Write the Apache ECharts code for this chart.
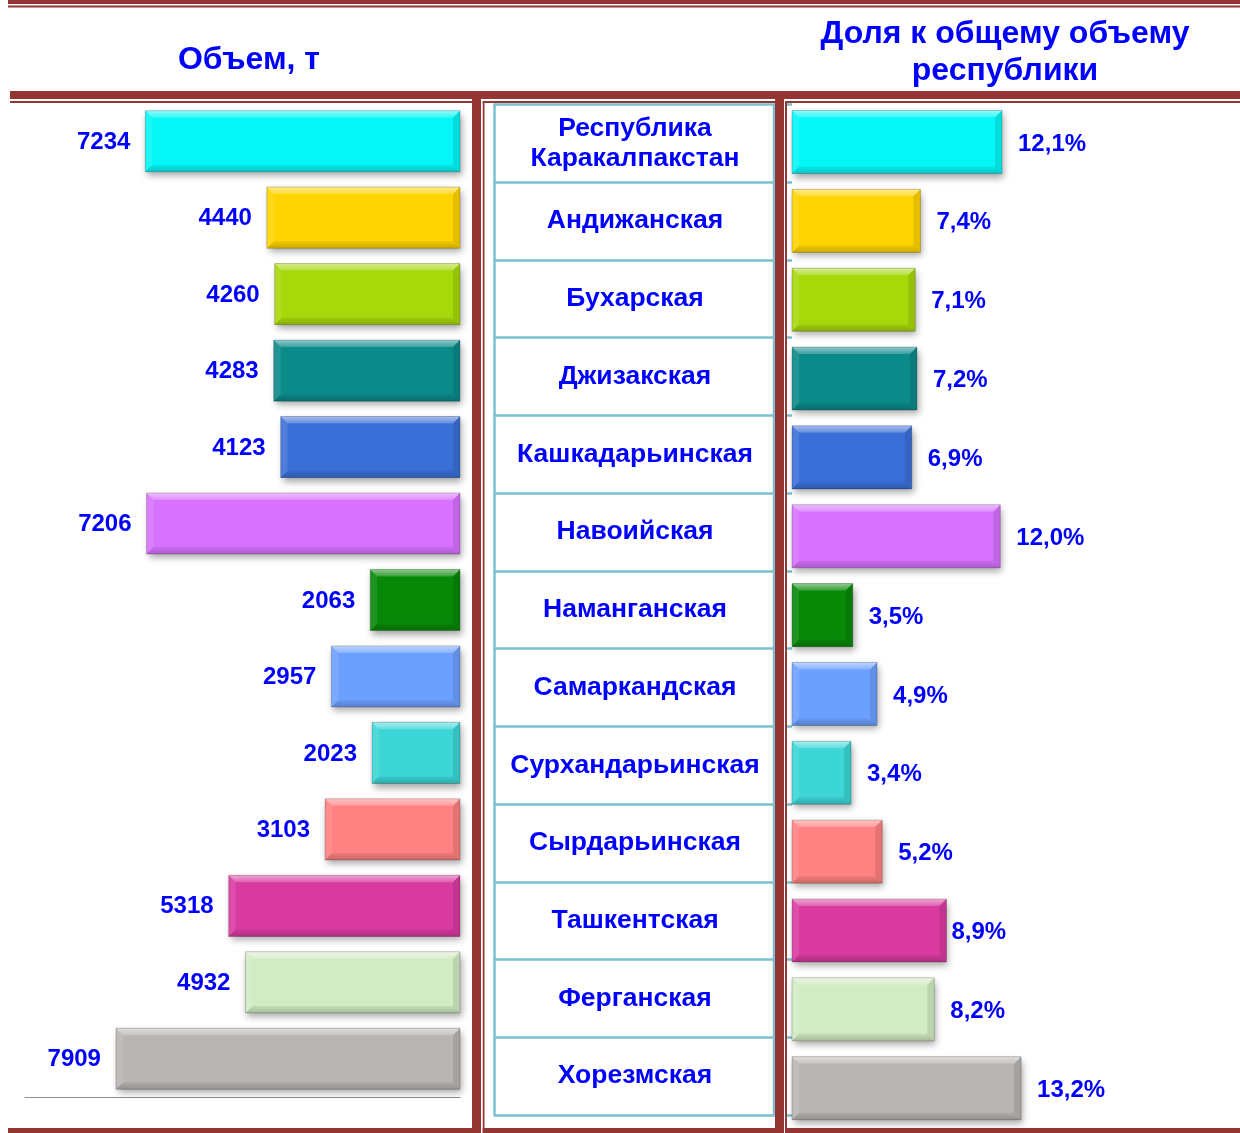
<!DOCTYPE html>
<html>
<head>
<meta charset="utf-8">
<script src="https://cdn.jsdelivr.net/npm/echarts@6/dist/echarts.min.js"></script>
<style>
  html, body { margin: 0; padding: 0; background: #ffffff; }
  #chart { width: 1240px; height: 1133px; }
</style>
</head>
<body>
<div id="chart"></div>
<script>
// Regions of Uzbekistan (top to bottom)
const regions = [
  'Республика\nКаракалпакстан', 'Андижанская', 'Бухарская', 'Джизакская',
  'Кашкадарьинская', 'Навоийская', 'Наманганская', 'Самаркандская',
  'Сурхандарьинская', 'Сырдарьинская', 'Ташкентская', 'Ферганская', 'Хорезмская'
];
// Volume, tonnes
const volumes = [7234, 4440, 4260, 4283, 4123, 7206, 2063, 2957, 2023, 3103, 5318, 4932, 7909];
// Share of the republic total, %
const shares = [12.1, 7.4, 7.1, 7.2, 6.9, 12.0, 3.5, 4.9, 3.4, 5.2, 8.9, 8.2, 13.2];
// Fill colour for each region
const barColors = [
  '#04F6F6', '#FFD400', '#A6D80A', '#0B8A8A', '#3A6FD8', '#D771FF', '#078807',
  '#6CA0FF', '#3CD6D6', '#FF8181', '#D93AA0', '#D1EBC2', '#B9B5B2'
];
// Headings
const titleLeft = 'Объем, т';
const titleRight = 'Доля к общему объему\nреспублики';

const BLUE = '#0000FF';
const BROWN = '#943634';
const TEAL = '#7AC0CF';
const FONT = '"Liberation Sans", Arial, sans-serif';

const chart = echarts.init(document.getElementById('chart'), null, { renderer: 'canvas' });

function barData(values, labelDistance) {
  return values.map((v, i) => {
    const item = { value: v, itemStyle: { color: barColors[i] } };
    if (labelDistance && labelDistance[i] != null) item.label = { distance: labelDistance[i] };
    return item;
  });
}

// bevel facets on top of each bar, placed through the axes
function bevelItem(params, api) {
  const v = api.value(0);
  const c = api.value(1);
  const p0 = api.coord([0, c]);
  const p1 = api.coord([v, c]);
  const h = api.size([0, 1])[1] * 0.8;
  const x0 = Math.min(p0[0], p1[0]);
  const x1 = Math.max(p0[0], p1[0]);
  const y0 = p0[1] - h / 2;
  const y1 = p0[1] + h / 2;
  const b = 7;
  const fade = (a1, a2) => ({
    type: 'linear', x: 0, y: 0, x2: 0, y2: 1,
    colorStops: [{ offset: 0, color: a1 }, { offset: 1, color: a2 }]
  });
  return {
    type: 'group',
    children: [
      { type: 'polygon', shape: { points: [[x0, y0], [x1, y0], [x1 - b, y0 + b], [x0 + b, y0 + b]] },
        style: { fill: fade('rgba(255,255,255,0.55)', 'rgba(255,255,255,0.2)') } },
      { type: 'polygon', shape: { points: [[x0, y0], [x0 + b, y0 + b], [x0 + b, y1 - b], [x0, y1]] },
        style: { fill: 'rgba(255,255,255,0.1)' } },
      { type: 'polygon', shape: { points: [[x1, y0], [x1 - b, y0 + b], [x1 - b, y1 - b], [x1, y1]] },
        style: { fill: 'rgba(0,0,0,0.1)' } },
      { type: 'polygon', shape: { points: [[x0, y1], [x1, y1], [x1 - b, y1 - b], [x0 + b, y1 - b]] },
        style: { fill: fade('rgba(0,0,0,0.06)', 'rgba(0,0,0,0.2)') } },
      { type: 'rect', shape: { x: x0, y: y0, width: x1 - x0, height: y1 - y0 },
        style: { fill: 'none', stroke: 'rgba(0,0,0,0.2)', lineWidth: 1 } }
    ]
  };
}

const labelText = { fontFamily: FONT, fontWeight: 'bold', fontSize: 24, color: BLUE };
const shadow = { shadowBlur: 7, shadowColor: 'rgba(0,0,0,0.35)', shadowOffsetX: 2, shadowOffsetY: 4 };

// frame lines
const frame = [
  [8, 0, 1232, 4], [8, 5.5, 1232, 2],
  [10, 91, 1230, 8], [10, 101, 1230, 2],
  [472, 99, 9, 1034], [482.5, 101, 2, 1032],
  [775, 99, 9, 1034], [785, 101, 2, 1032],
  [8, 1128, 1232, 5]
].map(r => ({
  type: 'rect', z: 100,
  shape: { x: r[0], y: r[1], width: r[2], height: r[3] },
  style: { fill: BROWN }
}));
const gaps = [[481, 99, 1.5, 1034], [784, 99, 1, 1034]].map(r => ({
  type: 'rect', z: 101,
  shape: { x: r[0], y: r[1], width: r[2], height: r[3] },
  style: { fill: '#ffffff' }
}));

// the Ташкентская share label sits closer to its bar
const shareLabelDistance = shares.map((v, i) => (i === 10 ? 5 : null));

chart.setOption({
  backgroundColor: '#ffffff',
  animation: false,
  graphic: [
    { type: 'line', z: 99, shape: { x1: 774, y1: 104.5, x2: 774, y2: 1115 },
      style: { stroke: TEAL, lineWidth: 2.5 } },
    ...frame,
    ...gaps,
    { type: 'text', z: 100, style: { x: 249, y: 60, text: titleLeft, textAlign: 'center', textVerticalAlign: 'middle',
        font: 'bold 32px ' + FONT, fill: BLUE } },
    { type: 'text', z: 100, style: { x: 1005, y: 53, text: titleRight, textAlign: 'center', textVerticalAlign: 'middle',
        font: 'bold 32px ' + FONT, fill: BLUE, lineHeight: 37 } }
  ],
  grid: [
    { left: 25, top: 103, width: 435, height: 994 },
    { left: 494, top: 104.5, width: 298, height: 1010.5 },
    { left: 792, top: 102.6, width: 243, height: 1025 }
  ],
  xAxis: [
    { gridIndex: 0, type: 'value', min: 0, max: 10000, inverse: true,
      axisLine: { show: true, lineStyle: { color: '#8C8C8C', width: 1 } },
      axisTick: { show: false }, axisLabel: { show: false }, splitLine: { show: false } },
    { gridIndex: 1, type: 'value', show: false },
    { gridIndex: 2, type: 'value', min: 0, max: 14, show: false }
  ],
  yAxis: [
    { gridIndex: 0, type: 'category', data: regions, inverse: true, show: false },
    { gridIndex: 1, type: 'category', data: regions, inverse: true,
      axisLine: { show: true, lineStyle: { color: TEAL, width: 2.5 } },
      axisTick: { show: false },
      splitLine: { show: true, lineStyle: { color: TEAL, width: 2.5 } },
      axisLabel: { margin: -141, align: 'center', fontFamily: FONT, fontWeight: 'bold',
        fontSize: 26.5, color: BLUE, lineHeight: 30 } },
    { gridIndex: 2, type: 'category', data: regions, inverse: true, show: false }
  ],
  series: [
    { type: 'bar', xAxisIndex: 0, yAxisIndex: 0, barWidth: '80%', data: barData(volumes),
      itemStyle: shadow,
      label: { show: true, position: 'left', distance: 15, offset: [0, 1], ...labelText } },
    { type: 'custom', xAxisIndex: 0, yAxisIndex: 0, renderItem: bevelItem, z: 3, silent: true,
      encode: { x: 0, y: 1 }, data: volumes.map((v, i) => [v, i]) },
    { type: 'bar', xAxisIndex: 2, yAxisIndex: 2, barWidth: '80%', data: barData(shares, shareLabelDistance),
      itemStyle: shadow,
      label: { show: true, position: 'right', distance: 16, offset: [0, 2], ...labelText,
        formatter: p => p.value.toFixed(1).replace('.', ',') + '%' } },
    { type: 'custom', xAxisIndex: 2, yAxisIndex: 2, renderItem: bevelItem, z: 3, silent: true,
      encode: { x: 0, y: 1 }, data: shares.map((v, i) => [v, i]) }
  ]
});
</script>
</body>
</html>
